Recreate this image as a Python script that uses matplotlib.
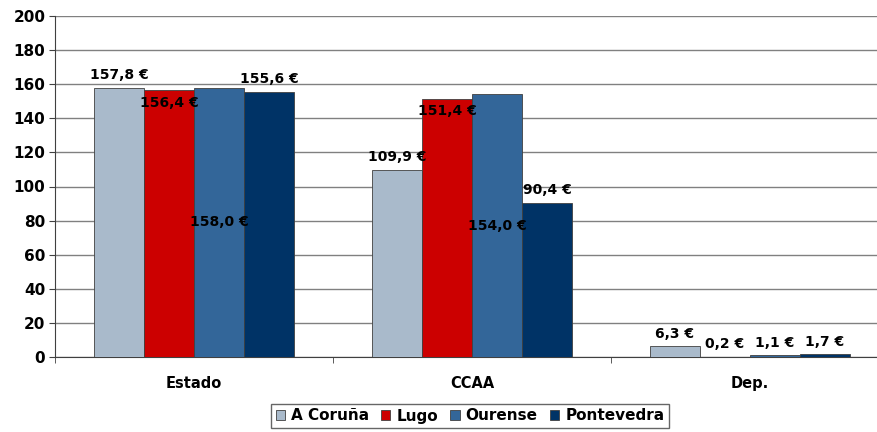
import matplotlib
matplotlib.use('Agg')
import matplotlib.pyplot as plt
import numpy as np

# data
categories = ['Estado', 'CCAA', 'Dep.']
series_names = ['A Coruña', 'Lugo', 'Ourense', 'Pontevedra']
a_coruna = [157.8, 109.9, 6.3]
lugo = [156.4, 151.4, 0.2]
ourense = [158.0, 154.0, 1.1]
pontevedra = [155.6, 90.4, 1.7]

colors = ['#A9BACB', '#CC0000', '#336699', '#003366']
# where Excel put each series' label: above bar, just inside top, middle
label_mode = [['above', 'above', 'above'],
              ['inside', 'inside', 'above'],
              ['center', 'center', 'above'],
              ['above', 'above', 'above']]

plt.rcParams['font.family'] = 'DejaVu Sans'
plt.rcParams['font.weight'] = 'bold'

fig = plt.figure(figsize=(8.78, 4.32), dpi=100)
ax = fig.add_axes([55 / 878, 1 - 357 / 432, 834 / 878, 341 / 432])

x = np.arange(len(categories))
width = 0.18
all_series = [a_coruna, lugo, ourense, pontevedra]
for i, (name, vals, col) in enumerate(zip(series_names, all_series, colors)):
    pos = x + (i - 1.5) * width
    ax.bar(pos, vals, width, color=col, edgecolor='#404040', linewidth=0.6,
           label=name, zorder=3)
    for j, v in enumerate(vals):
        txt = f'{v:.1f} €'.replace('.', ',')
        mode = label_mode[i][j]
        if mode == 'above':
            ax.annotate(txt, (pos[j], v), xytext=(0, 4), textcoords='offset points',
                        ha='center', va='bottom', fontsize=10, fontweight='bold', zorder=5)
        elif mode == 'inside':
            ax.annotate(txt, (pos[j], v), xytext=(0, -4), textcoords='offset points',
                        ha='center', va='top', fontsize=10, fontweight='bold', zorder=5)
        else:
            ax.text(pos[j], v / 2, txt, ha='center', va='center', fontsize=10,
                    fontweight='bold', zorder=5)

ax.set_xlim(-0.5, 2.5)
ax.set_ylim(0, 200)
ax.set_yticks(range(0, 201, 20))
ax.tick_params(axis='y', labelsize=11, length=4, color='#404040', pad=3)
ax.set_xticks(x)
ax.set_xticklabels(categories, fontsize=10.5, fontweight='bold')
ax.tick_params(axis='x', length=0, pad=14)
# category separator ticks
ax.set_xticks([-0.5, 0.5, 1.5, 2.5], minor=True)
ax.tick_params(axis='x', which='minor', length=4, color='#404040')

ax.grid(axis='y', color='#808080', linewidth=1, zorder=0)
for s in ['top', 'right']:
    ax.spines[s].set_visible(False)
ax.spines['left'].set_color('#404040')
ax.spines['bottom'].set_color('#404040')

leg = fig.legend(loc='center', bbox_to_anchor=(470 / 878, 1 - 416 / 432), ncol=4,
                 fontsize=11, frameon=True, fancybox=False, edgecolor='#404040',
                 handlelength=0.6, handleheight=0.6, handletextpad=0.4,
                 columnspacing=0.8, borderpad=0.3)
leg.get_frame().set_linewidth(1)
for t in leg.get_texts():
    t.set_fontweight('bold')

fig.savefig('out.png', dpi=100)
